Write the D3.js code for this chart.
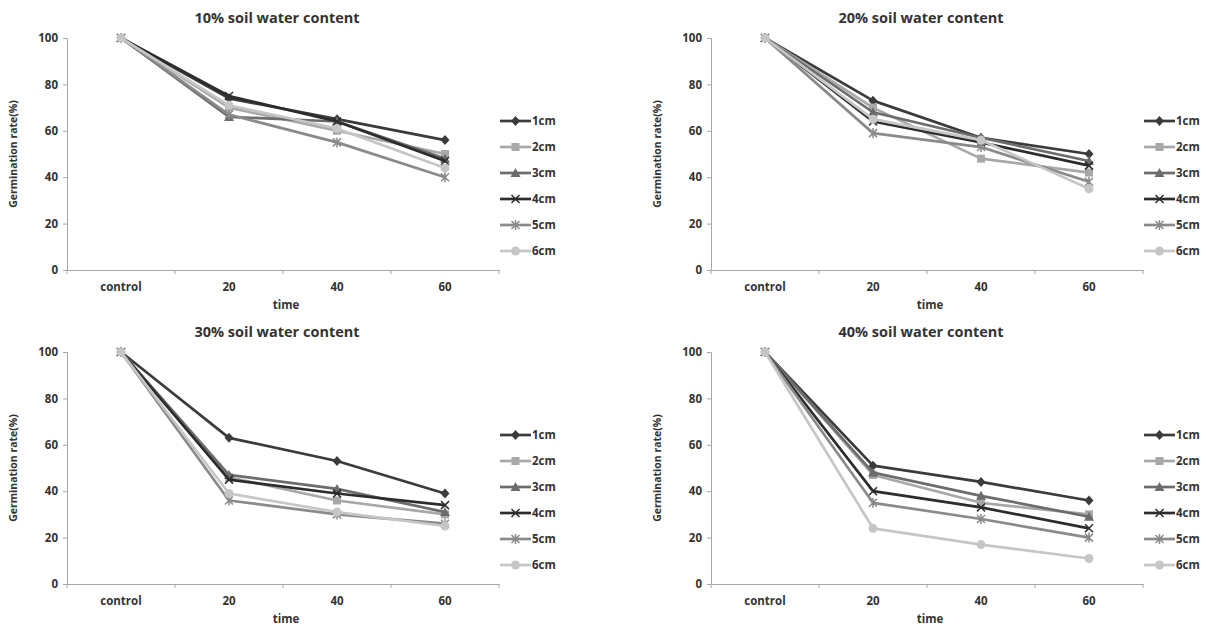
<!DOCTYPE html>
<html>
<head>
<meta charset="utf-8">
<script src="https://cdn.jsdelivr.net/npm/d3@7"></script>
<style>
  body { margin: 0; background: #fff; }
  svg text { font-family: "Open Sans", sans-serif; font-weight: bold; fill: #333; }
</style>
</head>
<body>
<svg id="chart" width="1208" height="628"></svg>
<script>
// categories and series
var categories = ["control", "20", "40", "60"];
var depths = ["1cm", "2cm", "3cm", "4cm", "5cm", "6cm"];
var yTicks = [0, 20, 40, 60, 80, 100];
var titles = ["10% soil water content", "20% soil water content", "30% soil water content", "40% soil water content"];

// germination rate per depth, one array per panel
var water10 = [
    [100, 74, 65, 56],
    [100, 70, 60, 50],
    [100, 66, 64, 48],
    [100, 75, 64, 47],
    [100, 67, 55, 40],
    [100, 71, 61, 44]
];
var water20 = [
    [100, 73, 57, 50],
    [100, 70, 48, 42],
    [100, 68, 57, 47],
    [100, 64, 55, 45],
    [100, 59, 53, 38],
    [100, 65, 56, 35]
];
var water30 = [
    [100, 63, 53, 39],
    [100, 46, 36, 30],
    [100, 47, 41, 31],
    [100, 45, 39, 34],
    [100, 36, 30, 26],
    [100, 39, 31, 25]
];
var water40 = [
    [100, 51, 44, 36],
    [100, 47, 35, 30],
    [100, 48, 38, 29],
    [100, 40, 33, 24],
    [100, 35, 28, 20],
    [100, 24, 17, 11]
];
var panelData = [water10, water20, water30, water40];

// styles
var colors = ["#3b3b3b", "#a8a8a8", "#6c6c6c", "#2c2c2c", "#8a8a8a", "#c6c6c6"];
var symbols = ["diamond", "square", "triangle", "x", "star", "circle"];
var config = {
    lefts: [67, 711],
    tops: [38, 352],
    width: 432,
    height: 232,
    axisColor: "#a6a6a6",
    lineWidth: 2.7
};

var svg = d3.select("#chart");

// draw one marker shape at 0,0
function drawMarker(g, type, color) {
    if (type === "diamond") {
        g.append("path").attr("d", "M0,-5L4.5,0L0,5L-4.5,0Z").attr("fill", color);
    } else if (type === "square") {
        g.append("rect").attr("x", -4).attr("y", -4).attr("width", 8).attr("height", 8).attr("fill", color);
    } else if (type === "triangle") {
        g.append("path").attr("d", "M0,-5L5,4L-5,4Z").attr("fill", color);
    } else if (type === "x") {
        g.append("path").attr("d", "M-4,-4L4,4M4,-4L-4,4").attr("stroke", color).attr("stroke-width", 1.5);
    } else if (type === "star") {
        g.append("path").attr("d", "M-4,-4L4,4M4,-4L-4,4M0,-5L0,5").attr("stroke", color).attr("stroke-width", 1.5);
    } else {
        g.append("circle").attr("r", 4.5).attr("fill", color);
    }
}

panelData.forEach(function(data, p) {
    var left = config.lefts[p % 2],
        top = config.tops[Math.floor(p / 2)];
    var g = svg.append("g").attr("transform", "translate(" + left + "," + top + ")");

    var x = d3.scaleBand().domain(categories).range([0, config.width]).padding(0);
    var y = d3.scaleLinear().domain([0, 100]).range([config.height, 0]);

    // y axis
    var yAxis = g.append("g")
        .call(d3.axisLeft(y).tickValues(yTicks).tickSize(4).tickPadding(5));
    yAxis.select("path").attr("stroke", config.axisColor);
    yAxis.selectAll("line").attr("stroke", config.axisColor);
    yAxis.selectAll("text").style("font-size", "11.5px");

    // x axis, labels centred in the bands
    var xAxis = g.append("g")
        .attr("transform", "translate(0," + config.height + ")")
        .call(d3.axisBottom(x).tickSize(0).tickPadding(13).tickSizeOuter(0));
    xAxis.select("path").attr("stroke", config.axisColor);
    xAxis.selectAll("text").style("font-size", "11.5px");
    // tick marks between categories
    g.selectAll(".xtick")
        .data(categories.map(function(c) { return x(c); }).concat([config.width]))
        .enter().append("line")
        .attr("x1", function(d) { return d; })
        .attr("x2", function(d) { return d; })
        .attr("y1", config.height)
        .attr("y2", config.height + 4)
        .attr("stroke", config.axisColor);

    // titles
    g.append("text")
        .attr("x", config.width / 2 - 6)
        .attr("y", -15)
        .attr("text-anchor", "middle")
        .style("font-size", "14.5px")
        .text(titles[p]);
    g.append("text")
        .attr("x", config.width / 2 + 3)
        .attr("y", config.height + 39)
        .attr("text-anchor", "middle")
        .style("font-size", "11.5px")
        .text("time");
    g.append("text")
        .attr("transform", "translate(-50," + (config.height / 2) + ") rotate(-90)")
        .attr("text-anchor", "middle")
        .style("font-size", "10.5px")
        .text("Germination rate(%)");

    var line = d3.line()
        .x(function(d, i) { return x(categories[i]) + x.bandwidth() / 2; })
        .y(function(d) { return y(d); });

    // series lines, last drawn on top as in the original
    data.forEach(function(values, s) {
        g.append("path")
            .datum(values)
            .attr("d", line)
            .attr("fill", "none")
            .attr("stroke", colors[s])
            .attr("stroke-width", config.lineWidth)
            .attr("stroke-linejoin", "round");
        values.forEach(function(v, i) {
            var m = g.append("g")
                .attr("transform", "translate(" + (x(categories[i]) + x.bandwidth() / 2) + "," + y(v) + ")");
            drawMarker(m, symbols[s], colors[s]);
        });
    });

    // legend
    var legend = g.append("g").attr("transform", "translate(" + (config.width + 1) + ",83)");
    depths.forEach(function(name, s) {
        var item = legend.append("g").attr("transform", "translate(0," + (s * 26) + ")");
        item.append("line")
            .attr("x1", 0).attr("x2", 31)
            .attr("stroke", colors[s])
            .attr("stroke-width", config.lineWidth);
        var m = item.append("g").attr("transform", "translate(15.5,0)");
        drawMarker(m, symbols[s], colors[s]);
        item.append("text")
            .attr("x", 32)
            .attr("dy", "0.35em")
            .style("font-size", "11.5px")
            .text(name);
    });
});
</script>
</body>
</html>
